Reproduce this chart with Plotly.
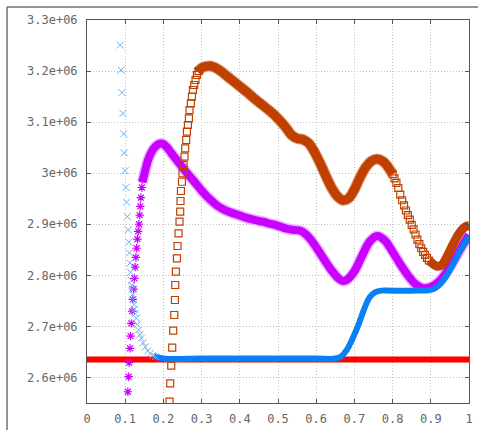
import plotly.graph_objects as go

# ---------------- data ----------------
x_tick_vals = [0, 0.1, 0.2, 0.3, 0.4, 0.5, 0.6, 0.7, 0.8, 0.9, 1]
x_tick_text = ["0", "0.1", "0.2", "0.3", "0.4", "0.5", "0.6", "0.7", "0.8", "0.9", "1"]
y_tick_vals = [2.6e6, 2.7e6, 2.8e6, 2.9e6, 3.0e6, 3.1e6, 3.2e6, 3.3e6]
y_tick_text = ["2.6e+06", "2.7e+06", "2.8e+06", "2.9e+06", "3e+06", "3.1e+06", "3.2e+06", "3.3e+06"]

# red series (constant level)
red_x = [0.0, 1.0]
red_y = [2.635e6, 2.635e6]

# blue series: sparse steep descent
blue_steep_x = [0.087, 0.089, 0.0915, 0.094, 0.096, 0.0975, 0.0995, 0.102, 0.1035, 0.1055,
                0.108, 0.1095, 0.111, 0.1125, 0.114, 0.116, 0.117, 0.118, 0.1195, 0.121,
                0.123, 0.1245, 0.1265, 0.129, 0.132, 0.135, 0.1385, 0.142, 0.147, 0.1525,
                0.159, 0.1655, 0.172, 0.179]
blue_steep_y = [3.251e6, 3.202e6, 3.158e6, 3.117e6, 3.077e6, 3.040e6, 3.005e6, 2.972e6, 2.943e6, 2.915e6,
                2.889e6, 2.865e6, 2.844e6, 2.824e6, 2.806e6, 2.790e6, 2.781e6, 2.773e6, 2.763e6, 2.753e6,
                2.743e6, 2.734e6, 2.725e6, 2.716e6, 2.704e6, 2.693e6, 2.684e6, 2.677e6, 2.668e6, 2.660e6,
                2.652e6, 2.647e6, 2.643e6, 2.641e6]
# blue series: dense part
blue_band_x = [0.175, 0.2, 0.3, 0.4, 0.5, 0.6, 0.65, 0.665, 0.68, 0.695, 0.71, 0.725, 0.74, 0.755,
               0.77, 0.8, 0.85, 0.895, 0.91, 0.925, 0.94, 0.955, 0.97, 0.985, 1.0]
blue_band_y = [2.642e6, 2.637e6, 2.637e6, 2.637e6, 2.637e6, 2.637e6, 2.637e6, 2.641e6, 2.654e6, 2.676e6,
               2.702e6, 2.733e6, 2.757e6, 2.767e6, 2.770e6, 2.770e6, 2.770e6, 2.771e6, 2.774e6, 2.783e6,
               2.798e6, 2.817e6, 2.839e6, 2.859e6, 2.876e6]

# purple series: sparse steep rise
purple_steep_x = [0.107, 0.109, 0.1105, 0.1125, 0.114, 0.116, 0.118, 0.120, 0.122, 0.124,
                  0.126, 0.128, 0.130, 0.132, 0.134, 0.136, 0.138, 0.1395, 0.141, 0.1435, 0.146]
purple_steep_y = [2.572e6, 2.6015e6, 2.629e6, 2.657e6, 2.681e6, 2.706e6, 2.730e6, 2.753e6, 2.773e6, 2.794e6,
                  2.816e6, 2.835e6, 2.853e6, 2.871e6, 2.886e6, 2.900e6, 2.918e6, 2.935e6, 2.952e6, 2.972e6, 2.988e6]
# purple series: dense part
purple_band_x = [0.145, 0.15, 0.155, 0.16, 0.17, 0.18, 0.19, 0.2, 0.21, 0.22, 0.24, 0.26, 0.28,
                 0.3, 0.32, 0.34, 0.36, 0.38, 0.4, 0.42, 0.44, 0.46, 0.48, 0.5, 0.52, 0.54, 0.56,
                 0.58, 0.6, 0.62, 0.64, 0.66, 0.67, 0.68, 0.7, 0.72, 0.74, 0.76, 0.78, 0.8, 0.82,
                 0.84, 0.86, 0.88, 0.9, 0.92, 0.94, 0.96, 0.98, 1.0]
purple_band_y = [2.982e6, 2.998e6, 3.013e6, 3.026e6, 3.043e6, 3.053e6, 3.058e6, 3.057e6, 3.050e6,
                 3.040e6, 3.021e6, 3.002e6, 2.984e6, 2.966e6, 2.950e6, 2.937e6, 2.928e6, 2.922e6, 2.917e6,
                 2.912e6, 2.908e6, 2.905e6, 2.901e6, 2.897e6, 2.892e6, 2.889e6, 2.887e6, 2.875e6, 2.855e6,
                 2.832e6, 2.810e6, 2.793e6, 2.789e6, 2.791e6, 2.808e6, 2.838e6, 2.866e6, 2.877e6, 2.868e6,
                 2.846e6, 2.822e6, 2.800e6, 2.783e6, 2.775e6, 2.777e6, 2.787e6, 2.805e6, 2.829e6, 2.855e6,
                 2.879e6]

# orange series: sparse steep rise
orange_steep_x = [0.2161, 0.2179, 0.2205, 0.2231, 0.2257, 0.2284, 0.2302, 0.2310, 0.2328, 0.2354,
                  0.2370, 0.2396, 0.2422, 0.2440, 0.2448, 0.2459, 0.2485, 0.2501, 0.2527, 0.2553,
                  0.2571, 0.2597, 0.2616, 0.2642, 0.2668, 0.2684, 0.2720, 0.2747, 0.2773, 0.2807,
                  0.2841, 0.2877, 0.2919]
orange_steep_y = [2.5525e6, 2.5886e6, 2.6230e6, 2.6583e6, 2.6916e6, 2.7223e6, 2.7517e6, 2.7811e6, 2.8071e6, 2.8334e6,
                  2.8574e6, 2.8823e6, 2.9050e6, 2.9246e6, 2.9456e6, 2.9651e6, 2.9833e6, 2.9998e6, 3.0161e6, 3.0323e6,
                  3.0488e6, 3.0650e6, 3.0813e6, 3.0944e6, 3.1075e6, 3.1237e6, 3.1369e6, 3.1498e6, 3.1629e6, 3.1727e6,
                  3.1825e6, 3.1923e6, 3.2000e6]
# orange series: dense part up to the second hump
orange_band_x = [0.29, 0.30, 0.31, 0.3225, 0.335, 0.35, 0.365, 0.38, 0.40, 0.42, 0.44, 0.46, 0.48, 0.50,
                 0.52, 0.535, 0.55, 0.565, 0.58, 0.595, 0.61, 0.625, 0.64, 0.655, 0.67, 0.685, 0.70,
                 0.715, 0.73, 0.745, 0.76, 0.775, 0.79, 0.80]
orange_band_y = [3.198e6, 3.206e6, 3.209e6, 3.210e6, 3.207e6, 3.200e6, 3.191e6, 3.182e6, 3.170e6, 3.158e6,
                 3.145e6, 3.133e6, 3.121e6, 3.107e6, 3.090e6, 3.075e6, 3.068e6, 3.066e6, 3.059e6, 3.042e6,
                 3.020e6, 2.995e6, 2.972e6, 2.955e6, 2.947e6, 2.951e6, 2.968e6, 2.992e6, 3.012e6, 3.024e6,
                 3.028e6, 3.023e6, 3.010e6, 2.998e6]
# orange series: chain of squares on the descent
orange_chain_x = [0.800, 0.805, 0.810, 0.815, 0.820, 0.825, 0.830, 0.835, 0.840, 0.845,
                  0.850, 0.855, 0.860, 0.865, 0.870, 0.875, 0.880, 0.885, 0.890, 0.895]
orange_chain_y = [2.998e6, 2.990e6, 2.981e6, 2.971e6, 2.958e6, 2.947e6, 2.937e6, 2.927e6, 2.918e6, 2.909e6,
                  2.899e6, 2.890e6, 2.880e6, 2.870e6, 2.861e6, 2.853e6, 2.846e6, 2.840e6, 2.834e6, 2.829e6]
# orange series: final dense part
orange_end_x = [0.895, 0.90, 0.915, 0.93, 0.94, 0.95, 0.96, 0.97, 0.98, 0.99, 1.0]
orange_end_y = [2.829e6, 2.826e6, 2.818e6, 2.821e6, 2.833e6, 2.848e6, 2.863e6, 2.877e6, 2.888e6, 2.895e6, 2.897e6]

# ---------------- styles ----------------
RED = "#ff0000"
BLUE = "#0a80f5"
BLUE_LIGHT = "#6ab0f5"
PURPLE = "#c800ff"
PURPLE_HALO = "#eab4ff"
ORANGE = "#c04000"
ORANGE_HALO = "#e0a080"

fig = go.Figure()

fig.add_trace(go.Scatter(x=red_x, y=red_y, mode="lines",
                         line=dict(color=RED, width=6)))

fig.add_trace(go.Scatter(x=purple_band_x, y=purple_band_y, mode="lines",
                         line=dict(color=PURPLE_HALO, width=11, shape="spline")))
fig.add_trace(go.Scatter(x=purple_band_x, y=purple_band_y, mode="lines",
                         line=dict(color=PURPLE, width=8, shape="spline")))
fig.add_trace(go.Scatter(x=purple_steep_x, y=purple_steep_y, mode="markers",
                         marker=dict(symbol="asterisk-open", size=7, color=PURPLE,
                                     line=dict(color=PURPLE, width=1.2))))

fig.add_trace(go.Scatter(x=blue_band_x, y=blue_band_y, mode="lines",
                         line=dict(color=BLUE, width=6, shape="spline")))
fig.add_trace(go.Scatter(x=blue_steep_x, y=blue_steep_y, mode="markers",
                         marker=dict(symbol="x-thin-open", size=7, color=BLUE_LIGHT,
                                     line=dict(color=BLUE_LIGHT, width=1))))

fig.add_trace(go.Scatter(x=orange_band_x, y=orange_band_y, mode="lines",
                         line=dict(color=ORANGE_HALO, width=11, shape="spline")))
fig.add_trace(go.Scatter(x=orange_band_x, y=orange_band_y, mode="lines",
                         line=dict(color=ORANGE, width=9, shape="spline")))
fig.add_trace(go.Scatter(x=orange_chain_x, y=orange_chain_y, mode="markers",
                         marker=dict(symbol="square-open", size=7, color=ORANGE,
                                     line=dict(color=ORANGE, width=1.2))))
fig.add_trace(go.Scatter(x=orange_end_x, y=orange_end_y, mode="lines",
                         line=dict(color=ORANGE, width=9, shape="spline")))
fig.add_trace(go.Scatter(x=orange_steep_x, y=orange_steep_y, mode="markers",
                         marker=dict(symbol="square-open", size=7, color=ORANGE,
                                     line=dict(color=ORANGE, width=1.2))))

tick_font = dict(family="DejaVu Sans Mono", size=12, color="#666666")
axis_common = dict(showline=True, linecolor="#555555", linewidth=1, mirror="ticks",
                   ticks="inside", ticklen=4, tickcolor="#555555",
                   showgrid=True, gridcolor="#c4c4c4", gridwidth=1, griddash="1px,2px",
                   zeroline=False, tickfont=tick_font, automargin=False)

fig.update_xaxes(range=[0, 1], tickmode="array", tickvals=x_tick_vals, ticktext=x_tick_text,
                 ticklabelstandoff=5, **axis_common)
fig.update_yaxes(range=[2.55e6, 3.3e6], tickmode="array", tickvals=y_tick_vals, ticktext=y_tick_text,
                 ticklabelstandoff=6, **axis_common)

# outer frame of the picture (left and top sides visible)
fig.add_shape(type="line", xref="paper", yref="paper", x0=-0.2094, x1=-0.2094, y0=-0.2, y1=1.0339,
              line=dict(color="#707070", width=1.5))
fig.add_shape(type="line", xref="paper", yref="paper", x0=-0.2094, x1=1.2, y0=1.0339, y1=1.0339,
              line=dict(color="#707070", width=1.5))

fig.update_layout(width=478, height=430, showlegend=False,
                  margin=dict(l=87, r=9, t=20, b=27),
                  plot_bgcolor="white", paper_bgcolor="white")

fig.write_html("out.html", config={"displayModeBar": False},
               post_script="document.body.style.margin='0';")
